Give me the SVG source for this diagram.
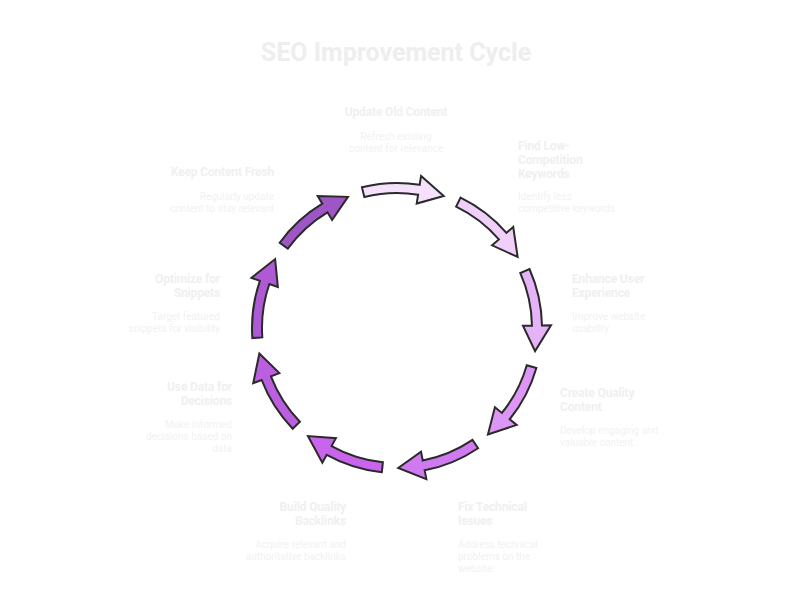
<svg xmlns="http://www.w3.org/2000/svg" xmlns:xlink="http://www.w3.org/1999/xlink" width="792" height="589" viewBox="0 0 792 589">
<style>
.title{font-family:Roboto,"Liberation Sans",sans-serif;font-weight:700;font-size:25px;fill:#eeeeee}
.lbl{font-family:Roboto,"Liberation Sans",sans-serif;font-weight:700;font-size:12px;fill:#f0f0f0;letter-spacing:-0.15px}
.desc{font-family:Roboto,"Liberation Sans",sans-serif;font-weight:400;font-size:10px;fill:#f2f2f2}
.arr{stroke:#2a2a2a;stroke-width:2;stroke-linejoin:miter}
</style>
<defs>
<path id="arrow" d="M361.92,187.31 A145,145 0 0 1 419.68,184.78 L421.09,175.90 L443.73,196.03 L416.71,203.55 L418.12,194.66 A135,135 0 0 0 364.34,197.01 Z"/>
</defs>
<rect width="792" height="589" fill="#ffffff"/>
<text class="title" x="396" y="61" text-anchor="middle">SEO Improvement Cycle</text>
<g id="connectors">
<use xlink:href="#arrow" class="arr" fill="#f5e1fc"/>
<use xlink:href="#arrow" class="arr" fill="#f0d0fb" transform="rotate(40 397 328)"/>
<use xlink:href="#arrow" class="arr" fill="#e6b3f8" transform="rotate(80 397 328)"/>
<use xlink:href="#arrow" class="arr" fill="#dc96f5" transform="rotate(120 397 328)"/>
<use xlink:href="#arrow" class="arr" fill="#d07af2" transform="rotate(160 397 328)"/>
<use xlink:href="#arrow" class="arr" fill="#c865ec" transform="rotate(200 397 328)"/>
<use xlink:href="#arrow" class="arr" fill="#bb5ee0" transform="rotate(240 397 328)"/>
<use xlink:href="#arrow" class="arr" fill="#ad5ad4" transform="rotate(280 397 328)"/>
<use xlink:href="#arrow" class="arr" fill="#9d56c4" transform="rotate(320 397 328)"/>
</g>
<g id="update-old-content" text-anchor="middle">
<text class="lbl" x="396" y="116">Update Old Content</text>
<text class="desc" x="396" y="140">Refresh existing</text>
<text class="desc" x="396" y="152">content for relevance</text>
</g>
<g id="find-keywords">
<text class="lbl" x="518" y="150">Find Low-</text>
<text class="lbl" x="518" y="164">Competition</text>
<text class="lbl" x="518" y="178">Keywords</text>
<text class="desc" x="518" y="200">Identify less</text>
<text class="desc" x="518" y="212">competitive keywords</text>
</g>
<g id="enhance-ux">
<text class="lbl" x="572" y="283">Enhance User</text>
<text class="lbl" x="572" y="297">Experience</text>
<text class="desc" x="572" y="320">Improve website</text>
<text class="desc" x="572" y="332">usability</text>
</g>
<g id="create-content">
<text class="lbl" x="560" y="397">Create Quality</text>
<text class="lbl" x="560" y="411">Content</text>
<text class="desc" x="560" y="434">Develop engaging and</text>
<text class="desc" x="560" y="446">valuable content</text>
</g>
<g id="fix-technical">
<text class="lbl" x="458" y="511">Fix Technical</text>
<text class="lbl" x="458" y="525">Issues</text>
<text class="desc" x="458" y="548">Address technical</text>
<text class="desc" x="458" y="560">problems on the</text>
<text class="desc" x="458" y="572">website</text>
</g>
<g id="build-backlinks" text-anchor="end">
<text class="lbl" x="346" y="511">Build Quality</text>
<text class="lbl" x="346" y="525">Backlinks</text>
<text class="desc" x="346" y="548">Acquire relevant and</text>
<text class="desc" x="346" y="560">authoritative backlinks</text>
</g>
<g id="use-data" text-anchor="end">
<text class="lbl" x="232" y="391">Use Data for</text>
<text class="lbl" x="232" y="405">Decisions</text>
<text class="desc" x="232" y="428">Make informed</text>
<text class="desc" x="232" y="440">decisions based on</text>
<text class="desc" x="232" y="452">data</text>
</g>
<g id="optimize-snippets" text-anchor="end">
<text class="lbl" x="220" y="283">Optimize for</text>
<text class="lbl" x="220" y="297">Snippets</text>
<text class="desc" x="220" y="320">Target featured</text>
<text class="desc" x="220" y="332">snippets for visibility</text>
</g>
<g id="keep-fresh" text-anchor="end">
<text class="lbl" x="274" y="176">Keep Content Fresh</text>
<text class="desc" x="274" y="200">Regularly update</text>
<text class="desc" x="274" y="212">content to stay relevant</text>
</g>
</svg>
